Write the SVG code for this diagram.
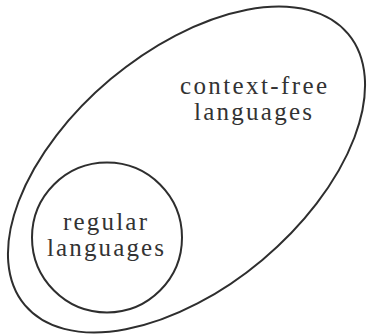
<svg xmlns="http://www.w3.org/2000/svg" width="368" height="335" viewBox="0 0 368 335">
<style>
.set{fill:none;stroke:#2e2e2e;stroke-width:2}
.lbl{font-family:"Liberation Serif","Times New Roman",serif;font-size:25px;fill:#333;text-anchor:middle}
</style>
<rect width="368" height="335" fill="#fff"/>
<g id="context-free">
<ellipse class="set" cx="186.5" cy="169.5" rx="211" ry="118" transform="rotate(-40 186.5 169.5)"/>
<text class="lbl" x="253.5" y="94" textLength="147" lengthAdjust="spacing">context-free</text>
<text class="lbl" x="253" y="120" textLength="118" lengthAdjust="spacing">languages</text>
</g>
<g id="regular">
<circle class="set" cx="107" cy="237.5" r="75"/>
<text class="lbl" x="105" y="230" textLength="84" lengthAdjust="spacing">regular</text>
<text class="lbl" x="105.5" y="256" textLength="117" lengthAdjust="spacing">languages</text>
</g>
<g id="connectors"/>
</svg>
